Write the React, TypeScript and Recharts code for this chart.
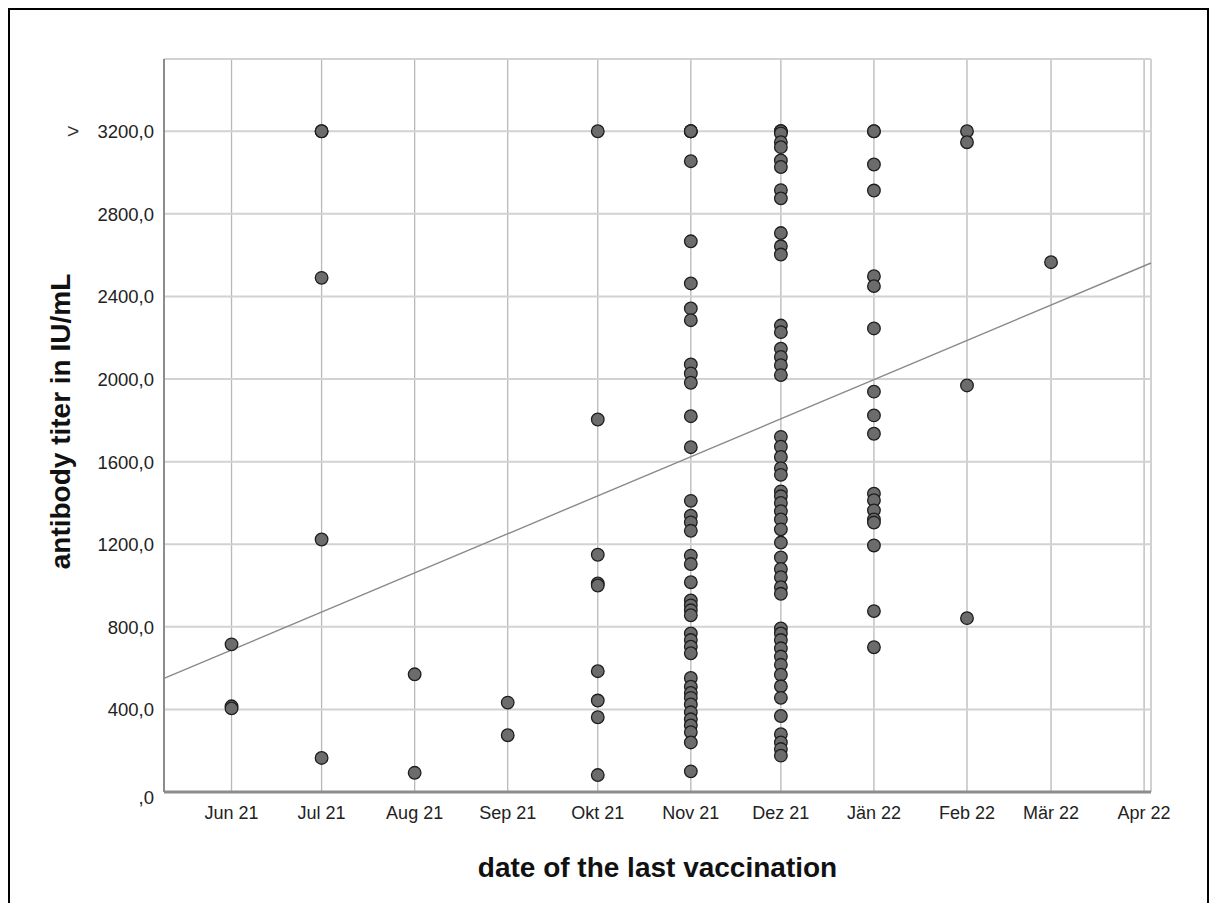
import { CartesianGrid, Label, ReferenceLine, Scatter, ScatterChart, XAxis, YAxis } from "recharts";

// month positions on the date axis (first day of each month)
const monthDates = [
  "2021-06-01", "2021-07-01", "2021-08-01", "2021-09-01", "2021-10-01", "2021-11-01",
  "2021-12-01", "2022-01-01", "2022-02-01", "2022-03-01", "2022-04-01",
];
const monthLabels = ["Jun 21", "Jul 21", "Aug 21", "Sep 21", "Okt 21", "Nov 21", "Dez 21", "Jän 22", "Feb 22", "Mär 22", "Apr 22"];

// antibody titers (IU/mL) by month of last vaccination
const jun21 = [715, 415, 405];
const jul21 = [3200, 3200, 2490, 1223, 165];
const aug21 = [570, 93];
const sep21 = [433, 275];
const okt21 = [3200, 1804, 1149, 1010, 1000, 585, 443, 362, 82];
const nov21 = [
  3200, 3200, 3200, 3055, 2667, 2463, 2342, 2285, 2071, 2027, 1982, 1820, 1670, 1410, 1338, 1306, 1265,
  1145, 1104, 1016, 928, 904, 880, 856, 768, 736, 704, 672, 552, 510, 480, 456, 424, 386, 352, 322, 290,
  240, 100,
];
const dez21 = [
  3200, 3200, 3200, 3190, 3147, 3123, 3059, 3027, 2915, 2875, 2707, 2643, 2603, 2259, 2227, 2147, 2107,
  2067, 2019, 1720, 1672, 1623, 1568, 1536, 1456, 1432, 1400, 1360, 1320, 1272, 1208, 1136, 1080, 1040,
  992, 960, 792, 768, 736, 696, 656, 616, 568, 512, 456, 368, 280, 240, 208, 176,
];
const jan22 = [3200, 3200, 3039, 2913, 2498, 2450, 2245, 1939, 1824, 1735, 1445, 1413, 1364, 1320, 1305, 1194, 876, 701];
const feb22 = [3200, 3147, 1969, 842];
const mar22 = [2566];
const apr22: number[] = [];

const titersByMonth = [jun21, jul21, aug21, sep21, okt21, nov21, dez21, jan22, feb22, mar22, apr22];

// fit line: titer at the left and right edge of the date axis
const fitStart = 550;
const fitEnd = 2562;

const yTicks = [0, 400, 800, 1200, 1600, 2000, 2400, 2800, 3200];

const DAY = 24 * 3600 * 1000;
const monthTs = monthDates.map((d) => Date.parse(d + "T00:00:00Z"));
const xMin = monthTs[0] - 22.5 * DAY;
const xMax = monthTs[monthTs.length - 1] + 2.3 * DAY;

const points = titersByMonth.flatMap((vals, i) => vals.map((v) => ({ x: monthTs[i], y: v })));

const font = "'Liberation Sans', Arial, sans-serif";

function fmt(v: number) {
  return v === 0 ? ",0" : `${v},0`;
}

function YTick(props: any) {
  const { x, y, payload } = props;
  const v = payload.value as number;
  const dy = v === 0 ? 12 : 7;
  return (
    <g>
      {v === 3200 && (
        <text x={x - 87} y={y} dy={dy} textAnchor="start" fontSize={21} fontFamily={font} fill="#333">
          &gt;
        </text>
      )}
      <text x={x} y={y} dy={dy} textAnchor="end" fontSize={18.5} fontFamily={font} fill="#222">
        {fmt(v)}
      </text>
    </g>
  );
}

function Dot(props: any) {
  return <circle cx={props.cx} cy={props.cy} r={6.3} fill="#6c6c6c" stroke="#1e1e1e" strokeWidth={1.3} />;
}

export default function App() {
  return (
    <div style={{ width: 1197, height: 893, border: "2px solid #000", background: "#fff" }}>
      <ScatterChart width={1190} height={880} margin={{ top: 49, right: 49, bottom: 38, left: 0 }}>
        <CartesianGrid horizontal={false} stroke="#b8b8b8" strokeWidth={1.3} />
        <CartesianGrid vertical={false} stroke="#d2d2d2" strokeWidth={2} />
        <XAxis
          type="number"
          dataKey="x"
          domain={[xMin, xMax]}
          allowDataOverflow
          ticks={monthTs}
          tickFormatter={(t: number) => monthLabels[monthTs.indexOf(t)] ?? ""}
          tickLine={false}
          tickSize={0}
          tickMargin={14}
          height={60}
          axisLine={{ stroke: "#8c8c8c", strokeWidth: 3 }}
          tick={{ fontSize: 18, fontFamily: font, fill: "#222" }}
        >
          <Label
            content={({ viewBox }: any) => (
              <text
                x={viewBox.x + viewBox.width / 2}
                y={867}
                textAnchor="middle"
                fontSize={28}
                fontWeight="bold"
                fontFamily={font}
                fill="#111"
              >
                date of the last vaccination
              </text>
            )}
          />
        </XAxis>
        <YAxis
          type="number"
          dataKey="y"
          domain={[0, 3550]}
          allowDataOverflow
          ticks={yTicks}
          width={154}
          tickLine={false}
          tickSize={0}
          tickMargin={10}
          axisLine={{ stroke: "#8c8c8c", strokeWidth: 2 }}
          tick={<YTick />}
        >
          <Label
            content={({ viewBox }: any) => {
              const cy = viewBox.y + viewBox.height / 2 - 4;
              return (
                <text
                  x={50}
                  y={cy}
                  transform={`rotate(-90 50 ${cy})`}
                  textAnchor="middle"
                  dominantBaseline="central"
                  fontSize={28}
                  fontWeight="bold"
                  fontFamily={font}
                  fill="#111"
                >
                  antibody titer in IU/mL
                </text>
              );
            }}
          />
        </YAxis>
        <ReferenceLine
          segment={[
            { x: xMin, y: fitStart },
            { x: xMax, y: fitEnd },
          ]}
          stroke="#8a8a8a"
          strokeWidth={1.4}
        />
        <Scatter data={points} shape={<Dot />} isAnimationActive={false} />
      </ScatterChart>
    </div>
  );
}
